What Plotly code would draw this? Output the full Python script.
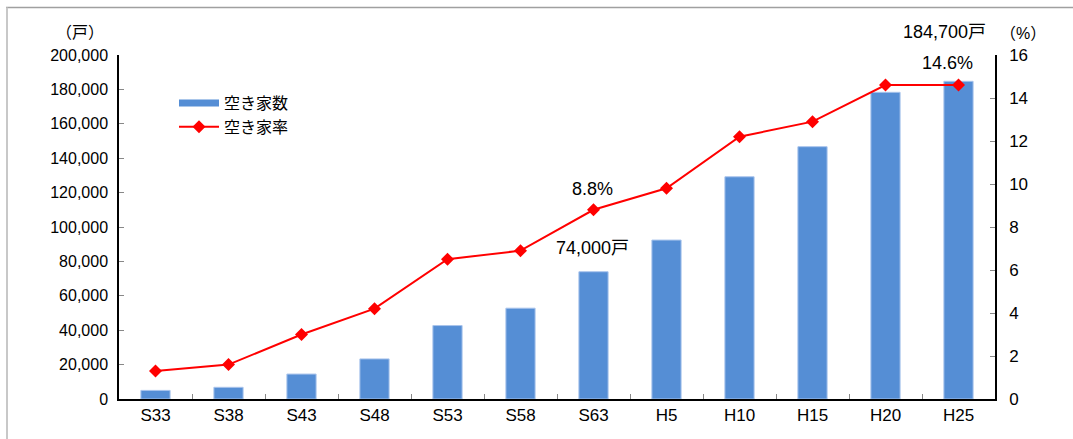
import plotly.graph_objects as go

categories = ["S33", "S38", "S43", "S48", "S53", "S58", "S63", "H5", "H10", "H15", "H20", "H25"]
vacant_houses = [5000, 6800, 14500, 23300, 42700, 52800, 74000, 92400, 129200, 146700, 178300, 184700]
vacancy_rate = [1.3, 1.6, 3.0, 4.2, 6.5, 6.9, 8.8, 9.8, 12.2, 12.9, 14.6, 14.6]
left_ticks = [0, 20000, 40000, 60000, 80000, 100000, 120000, 140000, 160000, 180000, 200000]
right_ticks = [0, 2, 4, 6, 8, 10, 12, 14, 16]

FONT = "Liberation Sans, Noto Sans CJK JP, sans-serif"
BLUE = "#558ED5"
RED = "#FF0000"

W, H = 1073, 439
ML, MR, MT, MB = 119, 78, 55, 40
PW, PH = W - ML - MR, H - MT - MB


def px(x):
    return (x - ML) / PW


def py(y):
    return (H - MB - y) / PH


fig = go.Figure()
fig.add_trace(go.Bar(
    x=categories, y=vacant_houses, name="空き家数", showlegend=False,
    marker=dict(color=BLUE, line=dict(color="#A9C4EC", width=1)),
    width=0.4, yaxis="y",
))
# legend entry for the bars (wide bar swatch like the original)
fig.add_trace(go.Scatter(
    x=[None], y=[None], name="空き家数", mode="lines",
    line=dict(color=BLUE, width=7), yaxis="y", showlegend=True,
))
fig.add_trace(go.Scatter(
    x=categories, y=vacancy_rate, name="空き家率", mode="lines+markers",
    line=dict(color=RED, width=2),
    marker=dict(symbol="diamond", size=10, color=RED),
    yaxis="y2",
))

fig.update_layout(
    width=W, height=H,
    margin=dict(l=ML, r=MR, t=MT, b=MB),
    paper_bgcolor="white", plot_bgcolor="white",
    font=dict(family=FONT, size=15, color="#000000"),
    showlegend=True,
    legend=dict(x=px(174), y=py(86), xanchor="left", yanchor="top",
                bgcolor="rgba(0,0,0,0)", font=dict(size=16), tracegroupgap=0,
                itemwidth=40),
    xaxis=dict(type="category", showline=True, linecolor="#000000", linewidth=1.5,
               ticks="inside", tickson="boundaries", ticklen=5, tickcolor="#888888",
               showgrid=False, tickfont=dict(size=17), range=[-0.5, 11.5]),
    yaxis=dict(range=[0, 200000], tickvals=left_ticks, tickformat=",d",
               showline=True, linecolor="#000000", linewidth=1.5,
               ticks="inside", ticklen=5, tickcolor="#888888",
               showgrid=False, zeroline=False, tickfont=dict(size=16), ticklabelstandoff=6),
    yaxis2=dict(range=[0, 16], tickvals=right_ticks, overlaying="y", side="right",
                showline=True, linecolor="#000000", linewidth=1.5,
                ticks="inside", ticklen=5, tickcolor="#888888",
                showgrid=False, zeroline=False, tickfont=dict(size=17), ticklabelstandoff=9),
)

# frame lines of the picture
fig.add_shape(type="line", xref="paper", yref="paper", x0=px(6), x1=px(1080), y0=py(7.5), y1=py(7.5),
              line=dict(color="#A0A0A0", width=1.5))
fig.add_shape(type="line", xref="paper", yref="paper", x0=px(7), x1=px(7), y0=py(445), y1=py(7.5),
              line=dict(color="#C8C8C8", width=2))

# annotations
fig.add_annotation(xref="paper", yref="paper", x=px(80), y=py(32), text="（戸）",
                   showarrow=False, font=dict(size=16), xanchor="center", yanchor="middle")
fig.add_annotation(xref="paper", yref="paper", x=px(1023), y=py(33), text="（%）",
                   showarrow=False, font=dict(size=16), xanchor="center", yanchor="middle")
fig.add_annotation(x=categories[11], y=vacant_houses[11], yref="y", text="184,700戸",
                   showarrow=False, font=dict(size=18), xanchor="center", yanchor="middle",
                   xshift=-14, yshift=49)
fig.add_annotation(x=categories[11], y=vacancy_rate[11], yref="y2", text="14.6%",
                   showarrow=False, font=dict(size=18), xanchor="center", yanchor="middle",
                   xshift=-11, yshift=22)
fig.add_annotation(x=categories[6], y=vacancy_rate[6], yref="y2", text="8.8%",
                   showarrow=False, font=dict(size=18), xanchor="center", yanchor="middle",
                   xshift=-1, yshift=21)
fig.add_annotation(x=categories[6], y=vacant_houses[6], yref="y", text="74,000戸",
                   showarrow=False, font=dict(size=18), xanchor="center", yanchor="middle",
                   xshift=-1, yshift=24)

fig.write_html("out.html", config={"displayModeBar": False},
               post_script="document.body.style.margin='0';")
